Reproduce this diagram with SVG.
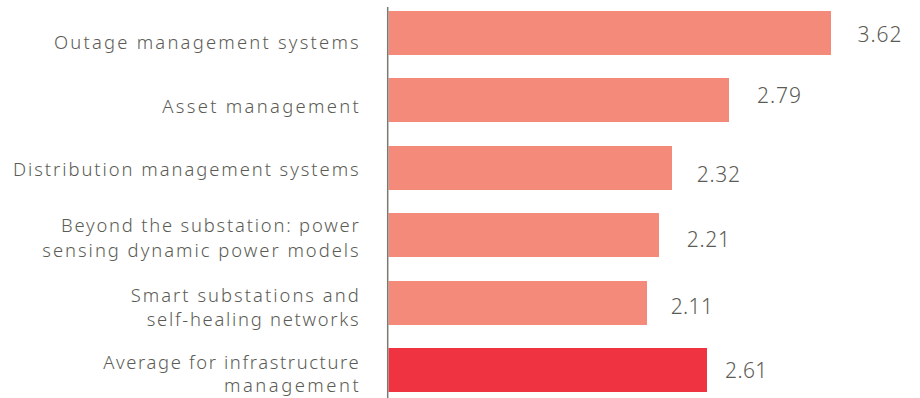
<svg xmlns="http://www.w3.org/2000/svg" width="920" height="398" viewBox="0 0 920 398">
<style>
.lbl{font-family:"Noto Sans","Open Sans","Liberation Sans",sans-serif;font-size:18.4px;font-weight:300;fill:#5b5b55;text-anchor:end}
.val{font-family:"Noto Sans","Open Sans","Liberation Sans",sans-serif;font-size:21px;font-weight:300;fill:#5b5b55}
.bar{fill:#f48b7a}
.avg{fill:#ef3340}
</style>
<rect width="920" height="398" fill="#fff"/>
<g id="bars">
<g id="n1"><rect class="bar" x="388.5" y="11" width="442.5" height="44"/><text class="val" x="857.5" y="42.3" textLength="44" lengthAdjust="spacing">3.62</text><text class="lbl" x="358.7" y="49.3" textLength="304.7" lengthAdjust="spacing">Outage management systems</text></g>
<g id="n2"><rect class="bar" x="388.5" y="78" width="340.5" height="44"/><text class="val" x="757" y="102.7" textLength="44" lengthAdjust="spacing">2.79</text><text class="lbl" x="358.7" y="113.3" textLength="196.4" lengthAdjust="spacing">Asset management</text></g>
<g id="n3"><rect class="bar" x="388.5" y="146" width="283.5" height="44"/><text class="val" x="696.7" y="181.7" textLength="43.3" lengthAdjust="spacing">2.32</text><text class="lbl" x="358.7" y="175.7" textLength="345.7" lengthAdjust="spacing">Distribution management systems</text></g>
<g id="n4"><rect class="bar" x="388.5" y="213" width="270.5" height="44"/><text class="val" x="686.7" y="247.3" textLength="43.3" lengthAdjust="spacing">2.21</text><text class="lbl" x="358.7" y="232.3" textLength="297.7" lengthAdjust="spacing">Beyond the substation: power</text><text class="lbl" x="358.7" y="256.7" textLength="316.4" lengthAdjust="spacing">sensing dynamic power models</text></g>
<g id="n5"><rect class="bar" x="388.5" y="281" width="258.5" height="44"/><text class="val" x="670.7" y="314" textLength="42.3" lengthAdjust="spacing">2.11</text><text class="lbl" x="358.7" y="302.2" textLength="228" lengthAdjust="spacing">Smart substations and</text><text class="lbl" x="358.7" y="325.8" textLength="212" lengthAdjust="spacing">self-healing networks</text></g>
<g id="n6"><rect class="avg" x="388.5" y="348" width="318.5" height="44"/><text class="val" x="725" y="378.3" textLength="42.3" lengthAdjust="spacing">2.61</text><text class="lbl" x="358.7" y="368.8" textLength="255.4" lengthAdjust="spacing">Average for infrastructure</text><text class="lbl" x="358.7" y="392.4" textLength="134.7" lengthAdjust="spacing">management</text></g>
</g>
<g id="connectors"><line x1="387.7" y1="7" x2="387.7" y2="398" stroke="#7a7a74" stroke-width="1.5"/></g>
</svg>
